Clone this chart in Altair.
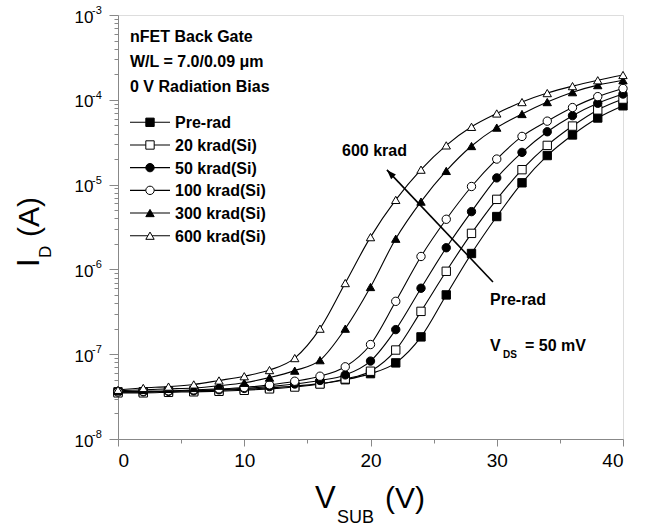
import altair as alt
import pandas as pd

# Substrate (back-gate) voltage sweep, one reading every 2 V
V_SUB = list(range(0, 41, 2))

SERIES = ["Pre-rad", "20 krad(Si)", "50 krad(Si)", "100 krad(Si)", "300 krad(Si)", "600 krad(Si)"]

# Drain current I_D (A) for each total dose
I_PRE = [3.6e-8, 3.6e-8, 3.65e-8, 3.7e-8, 3.75e-8, 3.85e-8, 4.0e-8, 4.2e-8, 4.5e-8, 5.0e-8, 5.9e-8,
         7.9e-8, 1.6e-7, 5.0e-7, 1.54e-6, 4.2e-6, 1.05e-5, 2.2e-5, 3.85e-5, 6.1e-5, 8.5e-5]
I_20K = [3.5e-8, 3.5e-8, 3.55e-8, 3.6e-8, 3.65e-8, 3.75e-8, 3.9e-8, 4.1e-8, 4.45e-8, 5.1e-8, 6.3e-8,
         1.12e-7, 3.2e-7, 9.5e-7, 2.66e-6, 6.7e-6, 1.5e-5, 2.9e-5, 4.9e-5, 7.6e-5, 1.02e-4]
I_50K = [3.6e-8, 3.6e-8, 3.65e-8, 3.7e-8, 3.8e-8, 3.95e-8, 4.15e-8, 4.45e-8, 4.9e-8, 5.7e-8, 8.3e-8,
         1.95e-7, 6.0e-7, 1.8e-6, 4.8e-6, 1.2e-5, 2.4e-5, 4.2e-5, 6.5e-5, 9.1e-5, 1.17e-4]
I_100K = [3.6e-8, 3.65e-8, 3.7e-8, 3.8e-8, 3.9e-8, 4.05e-8, 4.35e-8, 4.8e-8, 5.5e-8, 7.1e-8, 1.3e-7,
          4.2e-7, 1.42e-6, 3.9e-6, 9.5e-6, 2.0e-5, 3.7e-5, 5.6e-5, 8.1e-5, 1.09e-4, 1.36e-4]
I_300K = [3.7e-8, 3.8e-8, 3.9e-8, 4.0e-8, 4.25e-8, 4.6e-8, 5.3e-8, 6.4e-8, 8.5e-8, 2.0e-7, 6.2e-7,
          2.3e-6, 6.3e-6, 1.45e-5, 2.85e-5, 4.7e-5, 6.8e-5, 9.4e-5, 1.23e-4, 1.49e-4, 1.7e-4]
I_600K = [3.8e-8, 4.0e-8, 4.15e-8, 4.4e-8, 4.9e-8, 5.5e-8, 6.5e-8, 9.0e-8, 2.0e-7, 6.9e-7, 2.4e-6,
          6.6e-6, 1.5e-5, 2.9e-5, 4.8e-5, 6.9e-5, 9.4e-5, 1.2e-4, 1.45e-4, 1.7e-4, 1.96e-4]

# Axis ticks
X_MAJOR = [0, 10, 20, 30, 40]
X_MINOR = [5, 15, 25, 35]
Y_EXP = [-8, -7, -6, -5, -4, -3]
Y_MAJOR = [10.0 ** e for e in Y_EXP]
Y_MINOR = [k * 10.0 ** e for e in Y_EXP[:-1] for k in range(2, 10)]

# Dose arrow, drawn from the pre-rad side towards 600 krad
ARROW_V = [29.7, 21.3]
ARROW_I = [7.1e-7, 1.49e-5]

LEGEND_HEADER = ["nFET Back Gate", "W/L = 7.0/0.09 \u03bcm", "0 V Radiation Bias"]

FONT = "Liberation Sans"
INK = "#3a3a3a"

rows = []
for name, vals in zip(SERIES, [I_PRE, I_20K, I_50K, I_100K, I_300K, I_600K]):
    for v, i in zip(V_SUB, vals):
        rows.append({"series": name, "V": v, "I": i})
df = pd.DataFrame(rows)

xscale = alt.Scale(domain=[0, 40], nice=False, zero=False)
yscale = alt.Scale(type="log", domain=[1e-8, 1e-3], nice=False)

FILLS = ["black", "white", "black", "white", "black", "white"]
SHAPES = ["square", "square", "circle", "circle", "triangle-up", "triangle-up"]
SIZES = [70, 70, 66, 66, 100, 100]

shape_enc = alt.Shape("series:N", scale=alt.Scale(domain=SERIES, range=SHAPES), legend=None)
fill_enc = alt.Fill("series:N", scale=alt.Scale(domain=SERIES, range=FILLS), legend=None)
size_enc = alt.Size("series:O", scale=alt.Scale(domain=SERIES, range=SIZES), legend=None)

# Main layer: curves + major axes
lines = alt.Chart(df).mark_line(interpolate="monotone", color="black", strokeWidth=1.1).encode(
    x=alt.X("V:Q", scale=xscale, axis=alt.Axis(
        orient="bottom", values=X_MAJOR, format="d", title=None, grid=False,
        tickSize=7, labelFontSize=19, labelPadding=5, labelColor="black")),
    y=alt.Y("I:Q", scale=yscale, axis=alt.Axis(
        orient="left", values=Y_MAJOR, labelExpr="'10'", title=None, grid=False,
        tickSize=9, labelFontSize=17, labelPadding=16, labelColor="black",
        labelBaseline="middle", labelOffset=2)),
    detail="series:N",
)

points = alt.Chart(df).mark_point(filled=True, stroke="black", strokeWidth=1, opacity=1).encode(
    x=alt.X("V:Q", scale=xscale, axis=alt.Axis(
        orient="bottom", values=X_MINOR, labels=False, domain=False, title=None,
        grid=False, tickSize=4)),
    y=alt.Y("I:Q", scale=yscale, axis=alt.Axis(
        orient="left", values=Y_MINOR, labels=False, domain=False, title=None,
        grid=False, tickSize=4)),
    shape=shape_enc, fill=fill_enc, size=size_enc,
)

# Exponents of the y tick labels
exp_df = pd.DataFrame({"I": Y_MAJOR, "txt": [str(e) for e in Y_EXP]})
exponents = alt.Chart(exp_df).mark_text(
    align="left", baseline="middle", fontSize=11, font=FONT, color="black", dy=-4).encode(
    x=alt.value(-26),
    y=alt.Y("I:Q", scale=yscale, axis=None),
    text="txt:N",
)

# Dose arrow
arrow_df = pd.DataFrame({"V": [ARROW_V[0]], "I": [ARROW_I[0]], "V2": [ARROW_V[1]], "I2": [ARROW_I[1]]})
arrow_line = alt.Chart(arrow_df).mark_rule(color="black", strokeWidth=1.6).encode(
    x=alt.X("V:Q", scale=xscale, axis=None),
    y=alt.Y("I:Q", scale=yscale, axis=None),
    x2="V2:Q", y2="I2:Q",
)
arrow_head = alt.Chart(arrow_df).mark_point(
    shape="M0,0L-1.1,3.2L1.1,3.2Z", filled=True, color="black", size=36, angle=316.6, opacity=1).encode(
    x=alt.X("V2:Q", scale=xscale, axis=None),
    y=alt.Y("I2:Q", scale=yscale, axis=None),
)

# Legend drawn inside the plot: one row per series
leg_df = pd.DataFrame({"series": SERIES})
leg_y = alt.Y("series:N", scale=alt.Scale(type="point", domain=SERIES, range=[107.3, 220.7], padding=0),
              axis=None)
leg_line = alt.Chart(leg_df).mark_rule(color="black", strokeWidth=1.1).encode(
    y=leg_y, x=alt.value(12), x2=alt.value(52))
leg_pts = alt.Chart(leg_df).mark_point(filled=True, stroke="black", strokeWidth=1, opacity=1).encode(
    y=leg_y, x=alt.value(32), shape=shape_enc, fill=fill_enc, size=size_enc)
leg_txt = alt.Chart(leg_df).mark_text(
    align="left", baseline="middle", fontSize=16, fontWeight="bold", font=FONT, color="black", dy=1).encode(
    y=leg_y, x=alt.value(57), text="series:N")


def label(txt, x, y, size, bold=False, angle=0):
    props = dict(align="left", baseline="alphabetic", fontSize=size, font=FONT, color="black",
                 fontWeight="bold" if bold else "normal")
    if angle:
        props["angle"] = angle
    return alt.Chart(pd.DataFrame({"t": [txt]})).mark_text(**props).encode(
        x=alt.value(x), y=alt.value(y), text="t:N")


texts = [
    label(LEGEND_HEADER[0], 12, 27, 16, True),
    label(LEGEND_HEADER[1], 12, 52, 16, True),
    label(LEGEND_HEADER[2], 12, 77, 16, True),
    label("600 krad", 224, 141, 16, True),
    label("Pre-rad", 372, 290, 16, True),
    label("V", 372, 336, 16, True),
    label("DS", 385, 343, 10, True),
    label("= 50 mV", 407, 336, 16, True),
    # x title: V_SUB (V)
    label("V", 197, 493, 31),
    label("SUB", 219, 508, 18),
    label("(V)", 267, 493, 30),
    # y title: I_D (A)
    label("I", -79, 252, 31, angle=270),
    label("D", -67, 243, 17, angle=270),
    label("(A)", -79, 222, 30, angle=270),
]

chart = alt.layer(
    lines, points, exponents, arrow_line, arrow_head, leg_line, leg_pts, leg_txt, *texts
).resolve_scale(
    y="independent"
).resolve_axis(
    x="independent", y="independent"
).properties(
    width=505, height=424,
    autosize=alt.AutoSizeParams(type="none"),
    padding={"left": 118, "top": 15, "right": 26, "bottom": 88},
).configure_view(
    stroke=INK, strokeWidth=1.5
).configure_axis(
    domainColor=INK, domainWidth=1.5, tickColor=INK, tickWidth=1.3,
    labelFont=FONT,
).configure(background="white")

chart.save("out.html", embed_options={"renderer": "svg", "actions": False})
